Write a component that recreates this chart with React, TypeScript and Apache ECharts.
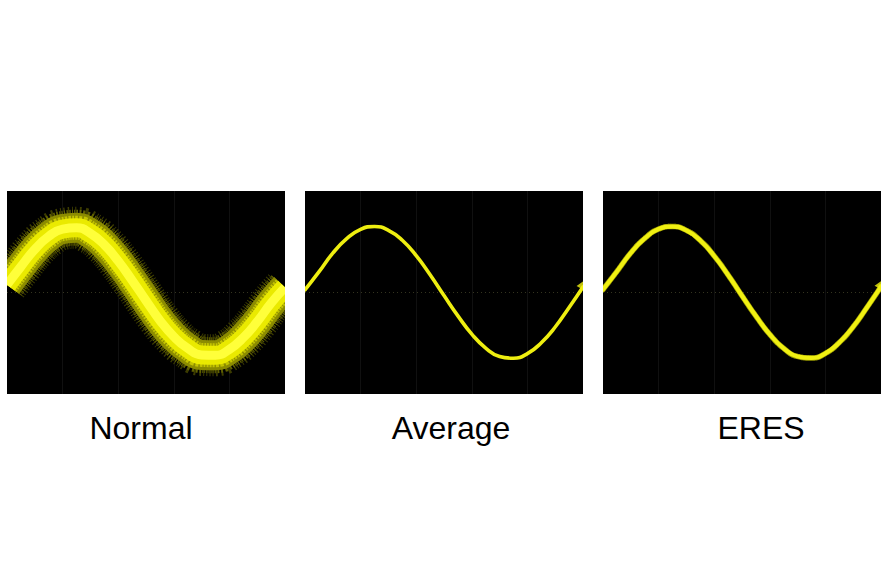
import React, { useEffect, useRef } from "react";
import * as echarts from "echarts";

// Time positions in screen divisions (0..10)
const timeDivs = [0, 0.5, 1, 1.5, 2, 2.5, 3, 3.5, 4, 4.5, 5, 5.5, 6, 6.5, 7, 7.5, 8, 8.5, 9, 9.5, 10];

// Voltage in vertical units (-4..4)
const normalTrace = [0.3, 1.02, 1.7, 2.21, 2.5, 2.55, 2.33, 1.88, 1.24, 0.48, -0.32, -1.1, -1.74, -2.2, -2.46, -2.47, -2.24, -1.78, -1.15, -0.42, 0.2];
const averageTrace = [0.1, 0.81, 1.55, 2.12, 2.49, 2.6, 2.45, 2.06, 1.45, 0.7, -0.12, -0.92, -1.64, -2.19, -2.52, -2.59, -2.41, -1.98, -1.36, -0.59, 0.22];
const eresTrace = [0.12, 0.83, 1.56, 2.13, 2.5, 2.6, 2.45, 2.05, 1.44, 0.69, -0.13, -0.93, -1.65, -2.2, -2.52, -2.58, -2.4, -1.97, -1.35, -0.58, 0.23];

const modeLabels = ["Normal", "Average", "ERES"];

const panelLefts = [7, 305, 603];
const panelWidth = 278;
const panelTop = 191;
const panelHeight = 203;

const pairs = (vals: number[]) => timeDivs.map((t, i) => [t, vals[i]]);

export default function App() {
  const ref = useRef<HTMLDivElement>(null);
  useEffect(() => {
    if (!ref.current) return;
    const chart = echarts.init(ref.current, undefined, { renderer: "svg" });

    const grids = panelLefts.map((l) => ({
      left: l,
      top: panelTop,
      width: panelWidth,
      height: panelHeight,
      show: true,
      backgroundColor: "#000000",
      borderWidth: 0,
    }));

    const xAxes = panelLefts.map((_, i) => ({
      type: "value",
      gridIndex: i,
      min: 0,
      max: 10,
      interval: 2,
      axisLine: { show: false },
      axisTick: { show: false },
      axisLabel: { show: false },
      splitLine: { show: true, showMinLine: false, showMaxLine: false, lineStyle: { color: "#101010", width: 1 } },
    }));
    const yAxes = panelLefts.map((_, i) => ({
      type: "value",
      gridIndex: i,
      min: -4,
      max: 4,
      interval: 4,
      axisLine: { show: false },
      axisTick: { show: false },
      axisLabel: { show: false },
      splitLine: { show: true, showMinLine: false, showMaxLine: false, lineStyle: { color: "#34341f", width: 1, type: [1, 3] } },
    }));

    const line = (idx: number, vals: number[], width: number, color: string, extra: any = {}) => ({
      type: "line",
      xAxisIndex: idx,
      yAxisIndex: idx,
      data: pairs(vals),
      smooth: 0.5,
      showSymbol: false,
      symbol: "none",
      silent: true,
      lineStyle: { width, color, cap: "butt", ...extra },
      z: 2,
    });

    const series: any[] = [
      line(0, normalTrace, 42, "#3c3c00", { type: [1, 2] }),
      line(0, normalTrace, 36, "#606000", { type: [1, 1] }),
      line(0, normalTrace, 30, "#8c8c00"),
      line(0, normalTrace, 24, "#c4c400", { type: [2, 1] }),
      line(0, normalTrace, 19, "#eaea00"),
      line(0, normalTrace, 9, "#ffff3a"),
      line(1, averageTrace, 3.6, "#eeee10", { cap: "round" }),
      line(2, eresTrace, 5.5, "#9a9a00", { cap: "round", type: [1, 1] }),
      line(2, eresTrace, 4.2, "#f0f012", { cap: "round" }),
    ];

    [1, 2].forEach((idx) => {
      const vals = idx === 1 ? averageTrace : eresTrace;
      series.push({
        type: "scatter",
        xAxisIndex: idx,
        yAxisIndex: idx,
        data: [[timeDivs[timeDivs.length - 1] - 0.05, vals[vals.length - 1] + 0.1]],
        symbol: "triangle",
        symbolSize: [7, 8],
        symbolRotate: -30,
        itemStyle: { color: "#f0f012" },
        silent: true,
        z: 3,
      });
    });

    const whiteRect = (x: number, w: number) => ({
      type: "rect",
      z: 100,
      silent: true,
      shape: { x, y: panelTop - 30, width: w, height: panelHeight + 60 },
      style: { fill: "#ffffff" },
    });
    const whiteBand = (y: number, h: number) => ({
      type: "rect",
      z: 100,
      silent: true,
      shape: { x: 0, y, width: 892, height: h },
      style: { fill: "#ffffff" },
    });

    const centers = [141, 451, 761];
    chart.setOption({
      animation: false,
      backgroundColor: "#ffffff",
      grid: grids,
      xAxis: xAxes,
      yAxis: yAxes,
      series,
      graphic: [
        whiteRect(0, panelLefts[0]),
        whiteRect(panelLefts[0] + panelWidth, panelLefts[1] - panelLefts[0] - panelWidth),
        whiteRect(panelLefts[1] + panelWidth, panelLefts[2] - panelLefts[1] - panelWidth),
        whiteRect(panelLefts[2] + panelWidth, 892 - panelLefts[2] - panelWidth),
        whiteBand(panelTop - 30, 30),
        whiteBand(panelTop + panelHeight, 30),
        ...modeLabels.map((t, i) => ({
          type: "text",
          z: 110,
          x: centers[i],
          y: 428,
          style: {
            text: t,
            fill: "#000000",
            font: '32px "Liberation Sans", Arial, sans-serif',
            textAlign: "center",
            textVerticalAlign: "middle",
          },
        })),
      ],
    });
    return () => chart.dispose();
  }, []);
  return <div ref={ref} style={{ position: "fixed", left: 0, top: 0, width: 892, height: 586 }} />;
}
